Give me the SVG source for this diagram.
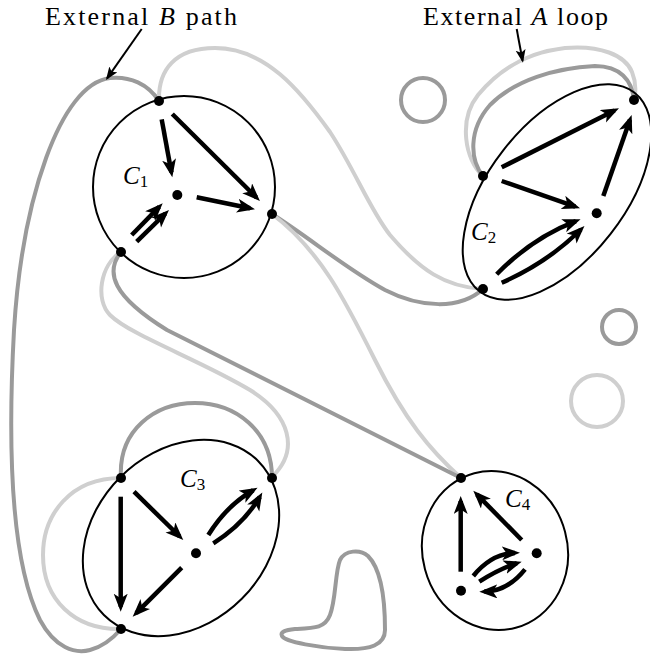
<svg xmlns="http://www.w3.org/2000/svg" width="650" height="658" viewBox="0 0 650 658">
<style>
.bg{fill:#fff}
.dk{fill:none;stroke:#9a9a9a;stroke-width:4;stroke-linecap:round;stroke-linejoin:round}
.lt{fill:none;stroke:#cfcfcf;stroke-width:4;stroke-linecap:round;stroke-linejoin:round}
.cl{fill:none;stroke:#000;stroke-width:2}
.ar{fill:none;stroke:#000;stroke-width:4.5;marker-end:url(#ah)}
.la{fill:none;stroke:#000;stroke-width:2;marker-end:url(#sh)}
.dot{fill:#000}
.t{font-family:"Liberation Serif","Times New Roman",serif;fill:#000}
.ci{font-family:"Liberation Serif","Times New Roman",serif;font-style:italic;font-size:25px;fill:#000}
.sub{font-style:normal;font-size:17px}
</style>
<defs>
<marker id="ah" markerUnits="userSpaceOnUse" markerWidth="19" markerHeight="15" refX="13" refY="7" orient="auto" viewBox="0 0 19 15">
<path d="M0,0 L18,7 L0,14 L4.5,7 Z" fill="#000"/>
</marker>
<marker id="sh" markerUnits="userSpaceOnUse" markerWidth="14" markerHeight="11" refX="11" refY="5" orient="auto" viewBox="0 0 14 11">
<path d="M0,0 L13,5 L0,10 L3,5 Z" fill="#000"/>
</marker>
</defs>
<rect class="bg" x="0" y="0" width="650" height="658"/>

<g id="decor">
<circle class="dk" cx="423" cy="100" r="22"/>
<circle class="dk" cx="619" cy="327" r="17"/>
<circle class="lt" cx="597" cy="401" r="26"/>
<path class="dk" d="M282,636 C285,642 320,648 345,649 C370,650 385,645 385,630 C385,600 382,570 368,556 C360,549 345,550 340,560 C335,572 336,600 330,615 C325,628 315,628 295,629 C285,630 280,632 282,636 Z"/>
</g>

<g id="connectors">
<path class="dk" d="M159,101 C148,84 130,76 110,78 C60,84 22,200 14,330 C8,440 10,560 40,620 C55,648 75,654 90,650 C105,646 115,636 121,629"/>
<path class="lt" d="M159,101 C158,70 175,48 215,48 C265,48 300,90 330,132 C355,170 370,210 390,235 C420,270 445,287 483,289"/>
<path class="dk" d="M272,214 C310,238 345,268 385,290 C420,308 460,310 483,289"/>
<path class="lt" d="M272,214 C320,250 345,300 375,360 C405,420 430,450 461,478"/>
<path class="lt" d="M121,252 C100,265 95,300 110,315 C130,335 200,360 250,390 C290,415 300,450 272,477"/>
<path class="dk" d="M121,252 C105,272 112,296 167,330 L461,478"/>
<path class="dk" d="M121,478 C118,430 155,403 195,403 C235,403 272,430 272,478"/>
<path class="lt" d="M121,478 C70,478 43,515 43,555 C43,600 75,630 121,629"/>
<path class="lt" d="M483,176 C465,160 458,120 478,95 C500,68 530,52 565,48 C600,45 625,55 632,72 C636,82 636,92 634,100"/>
<path class="dk" d="M483,176 C470,160 468,130 490,105 C515,80 555,68 595,66 C620,66 632,80 634,100"/>
</g>

<g id="C1">
<circle class="cl" cx="184" cy="187" r="91"/>
<line class="ar" x1="161.7" y1="119.3" x2="171.4" y2="172.4"/>
<line class="ar" x1="172.3" y1="114" x2="256.4" y2="197.5"/>
<line class="ar" x1="196.7" y1="197.3" x2="250.1" y2="208.3"/>
<line class="ar" x1="131.7" y1="235" x2="159.2" y2="206.9"/>
<line class="ar" x1="136.7" y1="241.7" x2="165.4" y2="213.5"/>
<circle class="dot" cx="159" cy="101" r="5"/>
<circle class="dot" cx="272" cy="214" r="5"/>
<circle class="dot" cx="121" cy="252" r="5"/>
<circle class="dot" cx="177.3" cy="195" r="5"/>
<text class="ci" x="123" y="184">C<tspan class="sub" dy="3">1</tspan></text>
</g>

<g id="C2">
<ellipse class="cl" cx="557" cy="192" rx="126" ry="68" transform="rotate(-52 557 192)"/>
<line class="ar" x1="501.7" y1="167.3" x2="614.5" y2="110.5"/>
<line class="ar" x1="501.7" y1="181" x2="575.3" y2="206.7"/>
<line class="ar" x1="603.3" y1="196" x2="630" y2="119.7"/>
<path class="ar" d="M496.7,274.3 Q532.4,237.7 575.9,221.1"/>
<path class="ar" d="M501.7,282.7 Q546.9,263 580.9,229.5"/>
<circle class="dot" cx="634" cy="100" r="5"/>
<circle class="dot" cx="483" cy="176" r="5"/>
<circle class="dot" cx="483" cy="289" r="5"/>
<circle class="dot" cx="596.7" cy="213.3" r="5"/>
<text class="ci" x="471" y="240">C<tspan class="sub" dy="3">2</tspan></text>
</g>

<g id="C3">
<ellipse class="cl" cx="181" cy="538" rx="109" ry="86" transform="rotate(-45 181 538)"/>
<line class="ar" x1="120.7" y1="496.7" x2="120.7" y2="606.7"/>
<line class="ar" x1="134" y1="491.7" x2="179.7" y2="536.5"/>
<line class="ar" x1="181.7" y1="567.7" x2="136.2" y2="613.2"/>
<path class="ar" d="M208.3,535 Q226.9,505.2 253.2,490.2"/>
<path class="ar" d="M213.3,543.3 Q243.9,524 259.8,496.8"/>
<circle class="dot" cx="121" cy="478" r="5"/>
<circle class="dot" cx="272" cy="478" r="5"/>
<circle class="dot" cx="121" cy="629" r="5"/>
<circle class="dot" cx="196" cy="553.3" r="5"/>
<text class="ci" x="180" y="487">C<tspan class="sub" dy="3">3</tspan></text>
</g>

<g id="C4">
<ellipse class="cl" cx="495" cy="550.5" rx="72.5" ry="80" transform="rotate(-15 495 550.5)"/>
<line class="ar" x1="460.7" y1="571.7" x2="460.7" y2="501"/>
<line class="ar" x1="521.7" y1="540" x2="476.8" y2="494.3"/>
<path class="ar" d="M473.3,576 Q491.3,553.7 515,552.9"/>
<path class="ar" d="M479.3,581.7 Q499,569 516.9,563.2"/>
<path class="ar" d="M525,569.3 Q507.5,591.3 484.3,591.6"/>
<circle class="dot" cx="461" cy="478" r="5"/>
<circle class="dot" cx="536.7" cy="553.3" r="5"/>
<circle class="dot" cx="461" cy="590.7" r="5"/>
<text class="ci" x="505" y="507">C<tspan class="sub" dy="3">4</tspan></text>
</g>

<g id="labels">
<text class="t" x="45" y="25" font-size="26" textLength="192" lengthAdjust="spacing">External <tspan font-style="italic">B</tspan> path</text>
<line class="la" x1="141.7" y1="29" x2="107.1" y2="78.4"/>
<text class="t" x="423" y="25" font-size="26" textLength="185" lengthAdjust="spacing">External <tspan font-style="italic">A</tspan> loop</text>
<line class="la" x1="516.7" y1="29" x2="522.6" y2="60.7"/>
</g>
</svg>
